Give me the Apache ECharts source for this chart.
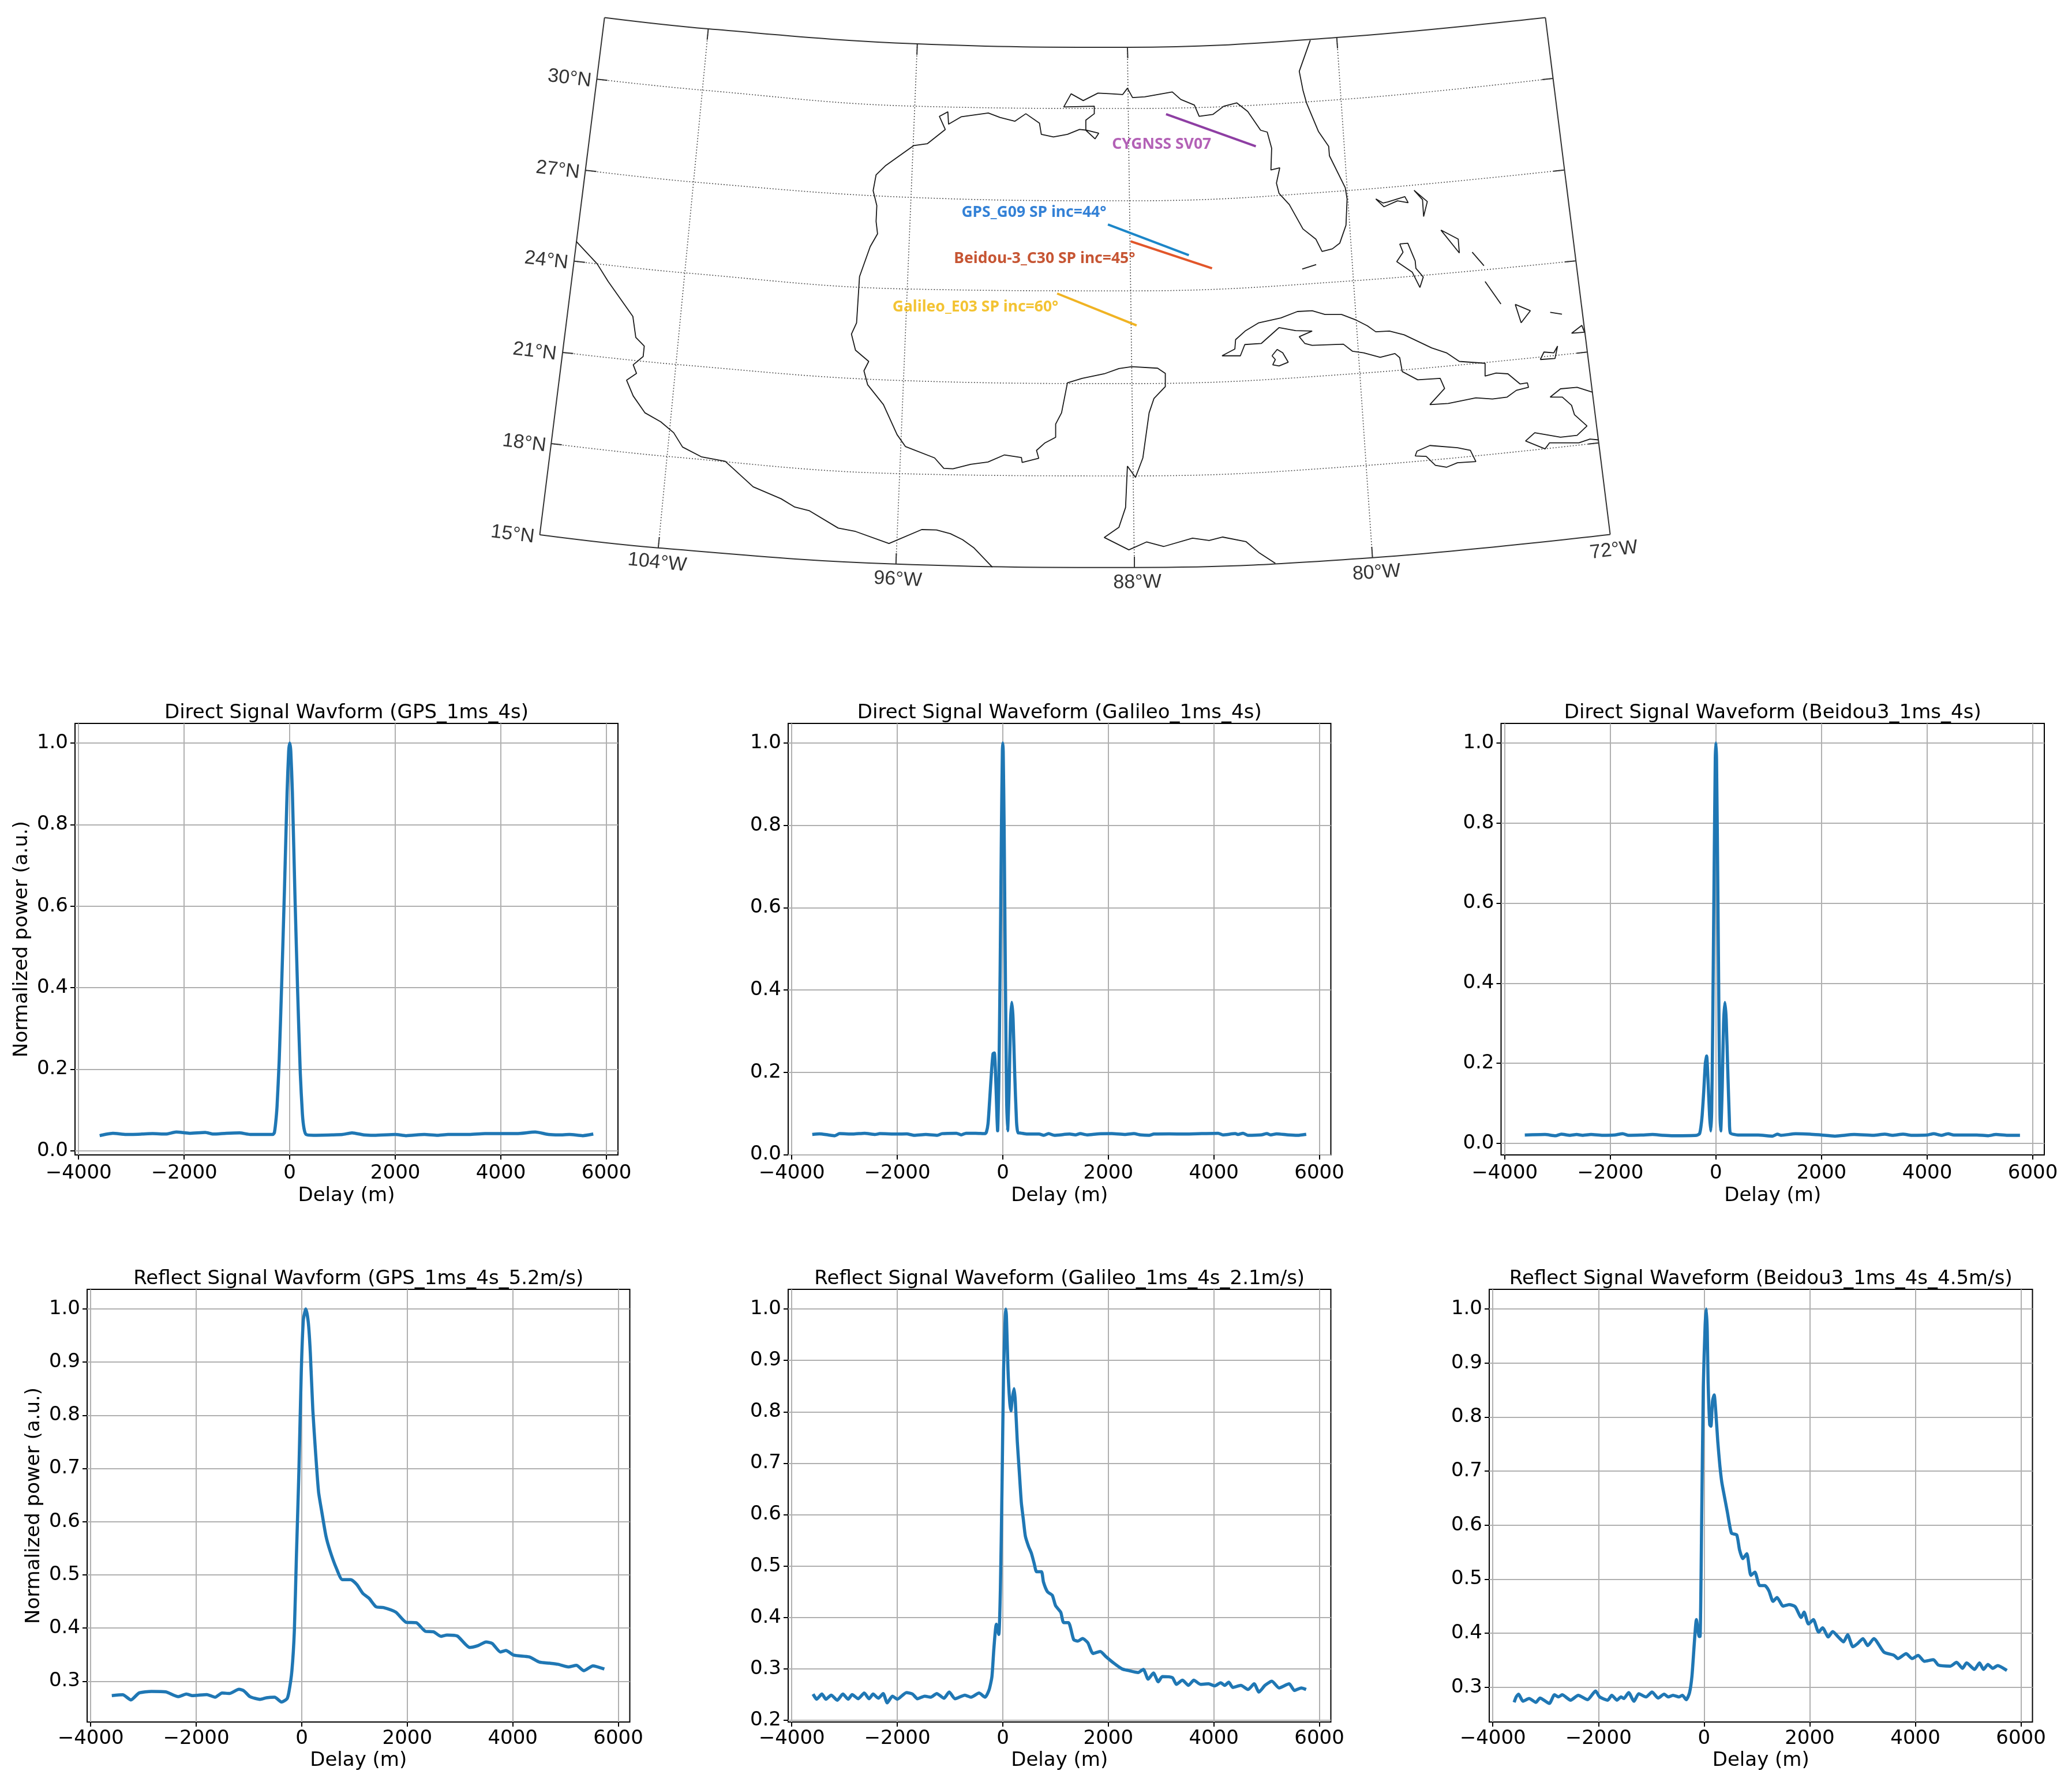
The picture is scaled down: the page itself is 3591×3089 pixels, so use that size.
<!DOCTYPE html>
<html><head><meta charset="utf-8">
<style>html,body{margin:0;padding:0;background:#fff}#c{width:3591px;height:3089px}</style>
<script src="https://cdn.jsdelivr.net/npm/echarts@6/dist/echarts.min.js"></script>
</head><body><div id="c"></div>
<script>
// ---------- waveforms: [delay (m), normalized power] ----------
const gpsDirect = [[-3600,.037],[-3500,.04],[-3350,.043],[-3100,.04],[-2800,.041],[-2600,.042],[-2350,.041],[-2150,.046],[-1900,.043],[-1600,.045],[-1450,.041],[-1200,.043],[-950,.044],[-750,.04],[-500,.04],[-320,.04],[-290,.045],[-265,.07],[-240,.11],[-200,.22],[-150,.42],[-100,.64],[-50,.88],[-20,.98],[0,1],[20,.98],[50,.88],[100,.62],[150,.39],[200,.19],[240,.09],[270,.055],[310,.04],[450,.038],[800,.039],[1000,.04],[1180,.044],[1400,.039],[1600,.038],[2000,.04],[2200,.037],[2550,.04],[2800,.038],[3000,.04],[3400,.04],[3700,.042],[4000,.042],[4300,.042],[4650,.046],[4900,.04],[5100,.039],[5300,.04],[5550,.037],[5750,.041]];
const galileoDirect = [[-3611,.049],[-3474,.0505],[-3310,.048],[-3183,.046],[-3093,.051],[-2838,.05],[-2620,.052],[-2421,.049],[-2330,.051],[-2004,.05],[-1822,.0505],[-1677,.047],[-1459,.049],[-1241,.047],[-1151,.051],[-878,.052],[-788,.048],[-697,.052],[-515,.052],[-334,.051],[-310,.055],[-280,.075],[-250,.13],[-215,.2],[-185,.245],[-160,.247],[-130,.17],[-110,.09],[-98,.058],[-75,.18],[-50,.45],[-25,.8],[-8,.98],[0,1],[8,.98],[25,.8],[50,.42],[72,.14],[91,.058],[120,.16],[145,.32],[170,.37],[195,.33],[225,.2],[260,.08],[285,.053],[301,.053],[464,.05],[686,.05],[777,.047],[868,.051],[977,.047],[1267,.05],[1377,.048],[1468,.051],[1594,.048],[1811,.0505],[2065,.051],[2319,.049],[2483,.051],[2610,.048],[2773,.047],[2864,.05],[3155,.0505],[3445,.05],[3772,.051],[4080,.052],[4171,.048],[4407,.051],[4461,.049],[4552,.052],[4643,.047],[4897,.048],[5006,.051],[5079,.048],[5188,.0505],[5406,.048],[5588,.047],[5751,.0495]];
const beidouDirect = [[-3618,.0207],[-3236,.022],[-3036,.019],[-2927,.023],[-2764,.02],[-2636,.022],[-2527,.02],[-2364,.022],[-2145,.02],[-1927,.0207],[-1764,.024],[-1655,.02],[-1418,.0207],[-1200,.022],[-1000,.02],[-800,.019],[-364,.02],[-310,.024],[-285,.04],[-260,.07],[-230,.13],[-200,.2],[-175,.218],[-150,.16],[-120,.07],[-98,.031],[-80,.08],[-60,.3],[-35,.66],[-12,.96],[0,1],[12,.96],[35,.66],[60,.28],[78,.07],[91,.031],[120,.14],[145,.3],[170,.352],[195,.31],[225,.18],[255,.06],[273,.026],[418,.0207],[800,.0207],[1074,.018],[1164,.023],[1236,.02],[1511,.024],[1783,.023],[2000,.0207],[2254,.018],[2617,.022],[2980,.02],[3198,.023],[3343,.02],[3543,.023],[3707,.02],[4000,.0207],[4123,.024],[4269,.02],[4396,.024],[4505,.0207],[4940,.0207],[5157,.019],[5303,.022],[5521,.02],[5757,.02]];
const gpsReflect = [[-3600,.273],[-3393,.2746],[-3237,.265],[-3082,.278],[-2848,.281],[-2576,.28],[-2342,.271],[-2187,.276],[-2070,.273],[-1798,.275],[-1642,.27],[-1510,.278],[-1370,.277],[-1190,.285],[-1097,.282],[-980,.271],[-786,.266],[-669,.269],[-514,.27],[-381,.261],[-280,.267],[-241,.281],[-187,.319],[-140,.395],[-101,.535],[-54,.694],[-8,.885],[31,.98],[78,1],[125,.974],[163,.917],[210,.81],[265,.726],[319,.656],[381,.618],[459,.573],[537,.545],[654,.513],[770,.491],[926,.491],[1043,.482],[1160,.465],[1276,.456],[1409,.44],[1549,.4386],[1782,.43],[1977,.411],[2171,.41],[2342,.394],[2498,.393],[2638,.3845],[2755,.387],[2949,.385],[3183,.3636],[3339,.367],[3494,.374],[3611,.371],[3767,.355],[3868,.358],[4023,.349],[4311,.3458],[4506,.336],[4700,.334],[4856,.332],[5051,.327],[5206,.33],[5346,.32],[5518,.329],[5735,.323]];
const galileoReflect = [[-3596,.251],[-3527,.241],[-3428,.251],[-3351,.241],[-3252,.249],[-3138,.239],[-3031,.251],[-2931,.241],[-2855,.25],[-2741,.242],[-2626,.253],[-2534,.242],[-2458,.251],[-2359,.243],[-2267,.252],[-2191,.234],[-2092,.247],[-2000,.241],[-1825,.254],[-1710,.251],[-1618,.242],[-1481,.247],[-1366,.245],[-1252,.252],[-1115,.243],[-1015,.255],[-908,.242],[-718,.249],[-603,.245],[-450,.253],[-336,.245],[-260,.259],[-206,.285],[-168,.341],[-122,.387],[-76,.367],[-46,.453],[-15,.65],[15,.881],[46,.985],[57,1],[69,.985],[99,.881],[130,.821],[153,.802],[183,.828],[214,.845],[237,.821],[275,.742],[313,.683],[351,.624],[389,.591],[428,.558],[489,.538],[542,.525],[595,.505],[641,.489],[733,.489],[771,.469],[847,.45],[939,.443],[1000,.423],[1099,.41],[1153,.39],[1244,.39],[1344,.357],[1420,.354],[1512,.359],[1611,.351],[1710,.33],[1847,.334],[1954,.324],[2107,.311],[2260,.3],[2374,.297],[2565,.293],[2664,.299],[2756,.28],[2855,.292],[2947,.275],[3023,.285],[3214,.283],[3290,.27],[3405,.278],[3519,.268],[3619,.278],[3748,.27],[3901,.271],[4015,.267],[4130,.273],[4206,.268],[4283,.274],[4359,.264],[4512,.268],[4649,.26],[4764,.271],[4855,.255],[4970,.268],[5099,.276],[5237,.263],[5428,.271],[5527,.258],[5657,.263],[5749,.26]];
const beidouReflect = [[-3596,.272],[-3557,.282],[-3512,.287],[-3428,.274],[-3313,.279],[-3183,.272],[-3107,.28],[-2931,.27],[-2832,.286],[-2756,.282],[-2687,.286],[-2527,.276],[-2382,.285],[-2206,.277],[-2054,.293],[-1977,.282],[-1825,.276],[-1748,.285],[-1649,.276],[-1573,.282],[-1519,.279],[-1428,.29],[-1328,.274],[-1237,.288],[-1099,.282],[-985,.291],[-870,.28],[-756,.287],[-679,.282],[-588,.285],[-473,.282],[-412,.285],[-336,.277],[-275,.29],[-229,.321],[-183,.384],[-145,.425],[-92,.394],[-76,.394],[-46,.604],[-15,.855],[20,.97],[42,1],[60,.96],[76,.867],[107,.786],[130,.783],[160,.83],[191,.841],[221,.811],[260,.754],[298,.711],[336,.679],[389,.651],[443,.623],[519,.585],[618,.582],[672,.554],[733,.538],[809,.547],[886,.507],[962,.513],[1053,.488],[1153,.488],[1229,.478],[1305,.459],[1382,.466],[1496,.45],[1611,.453],[1725,.449],[1840,.429],[1893,.439],[1977,.417],[2069,.425],[2168,.402],[2244,.41],[2351,.393],[2435,.403],[2550,.392],[2641,.384],[2718,.397],[2817,.375],[2909,.381],[3008,.39],[3099,.377],[3214,.39],[3405,.365],[3596,.359],[3672,.353],[3825,.362],[3939,.353],[4054,.359],[4168,.348],[4344,.351],[4435,.341],[4664,.339],[4779,.346],[4893,.335],[4970,.345],[5122,.333],[5214,.345],[5290,.333],[5374,.342],[5466,.335],[5558,.34],[5733,.331]];

const delayTicks = [-4000,-2000,0,2000,4000,6000];
const directTicks = [0,.2,.4,.6,.8,1];
const reflectTicks = [.3,.4,.5,.6,.7,.8,.9,1];
const reflectTicksGalileo = [.2,.3,.4,.5,.6,.7,.8,.9,1];

const panelTitles = ['Direct Signal Wavform (GPS_1ms_4s)','Direct Signal Waveform (Galileo_1ms_4s)','Direct Signal Waveform (Beidou3_1ms_4s)','Reflect Signal Wavform (GPS_1ms_4s_5.2m/s)','Reflect Signal Waveform (Galileo_1ms_4s_2.1m/s)','Reflect Signal Waveform (Beidou3_1ms_4s_4.5m/s)'];

// ---------- map, in map-plane units ----------
const frameTop = [[310,47],[592,77],[1160,117],[1731,126],[2300,100],[2867,47]];
const frameBottom = [[134,1425],[456,1460],[1102,1503],[1750,1512],[2397,1486],[3043,1424]];
const frameLeft = [[310,47],[134,1425]];
const frameRight = [[2867,47],[3043,1424]];
const meridians = [[[592,77],[456,1460]],[[1160,117],[1102,1503]],[[1731,126],[1750,1512]],[[2300,100],[2397,1486]]];
const parallels = [
 [[289,211],[575,240],[1155,283],[1731,289],[2313,265],[2887,209]],
 [[259,454],[552,485],[1143,526],[1740,535],[2325,508],[2918,453]],
 [[228,696],[528,727],[1133,770],[1740,775],[2346,748],[2949,695]],
 [[196,939],[505,971],[1120,1014],[1743,1022],[2358,995],[2981,938]],
 [[165,1182],[480,1216],[1112,1262],[1746,1268],[2381,1240],[3012,1180]]];
const gridTicks = [
 [[289,211],[318,214]],[[259,454],[288,457]],[[228,696],[257,699]],[[196,939],[225,942]],[[165,1182],[194,1185]],
 [[2887,209],[2858,212]],[[2918,453],[2889,456]],[[2949,695],[2920,698]],[[2981,938],[2952,941]],[[3012,1180],[2983,1183]],
 [[592,77],[589,106]],[[1160,117],[1159,146]],[[1731,126],[1732,155]],[[2300,100],[2302,129]],
 [[456,1460],[459,1431]],[[1102,1503],[1103,1474]],[[1750,1512],[1750,1483]],[[2397,1486],[2395,1457]]];
const coastWest = [[233,643],[290,703],[320,750],[387,843],[395,899],[418,922],[415,950],[388,972],[397,995],[370,1013],[388,1055],[420,1100],[463,1124],[498,1153],[522,1191],[573,1217],[638,1229],[714,1297],[790,1329],[827,1351],[867,1361],[945,1407],[992,1416],[1083,1448],[1172,1411],[1212,1412],[1250,1422],[1283,1438],[1313,1459],[1364,1511]];
const coastGulf = [[2228,107],[2198,190],[2208,240],[2218,275],[2250,350],[2278,390],[2280,415],[2323,500],[2328,530],[2325,600],[2308,648],[2288,663],[2260,670],[2243,637],[2208,610],[2171,545],[2143,515],[2136,488],[2145,447],[2121,453],[2123,395],[2111,352],[2093,347],[2058,297],[2028,274],[1993,283],[1963,305],[1926,310],[1913,280],[1876,265],[1853,245],[1778,258],[1745,260],[1731,235],[1718,252],[1688,250],[1651,248],[1611,268],[1578,250],[1558,285],[1641,283],[1641,303],[1618,320],[1618,347],[1643,370],[1653,355],[1621,347],[1601,345],[1568,358],[1530,365],[1497,358],[1492,328],[1455,303],[1425,323],[1385,313],[1353,301],[1280,311],[1245,331],[1243,298],[1220,310],[1236,345],[1187,383],[1150,388],[1073,442],[1048,466],[1040,508],[1050,548],[1048,590],[1052,623],[1032,657],[1003,737],[995,860],[981,890],[992,933],[1028,963],[1015,988],[1025,1025],[1068,1078],[1105,1158],[1128,1190],[1207,1220],[1232,1248],[1257,1249],[1305,1237],[1352,1231],[1397,1212],[1443,1219],[1445,1232],[1490,1221],[1484,1200],[1507,1180],[1536,1165],[1536,1130],[1552,1100],[1568,1020],[1608,1008],[1668,996],[1708,982],[1743,977],[1813,981],[1834,995],[1834,1030],[1803,1062],[1790,1100],[1773,1220],[1753,1272],[1731,1242],[1726,1352],[1708,1405],[1668,1432],[1735,1465],[1783,1444],[1830,1456],[1908,1434],[1953,1440],[1990,1431],[2053,1443],[2088,1472],[2133,1501]];
const islands = [
 [[1988,948],[2023,930],[2025,905],[2051,882],[2088,860],[2148,847],[2193,830],[2233,828],[2268,838],[2313,838],[2353,853],[2383,868],[2406,884],[2443,882],[2483,892],[2558,927],[2598,940],[2633,963],[2703,968],[2703,1002],[2733,994],[2765,996],[2798,1023],[2818,1020],[2821,1032],[2788,1040],[2763,1058],[2723,1063],[2678,1060],[2603,1075],[2553,1078],[2593,1035],[2581,1008],[2520,1012],[2478,990],[2471,953],[2458,942],[2418,952],[2373,940],[2343,936],[2318,917],[2233,920],[2213,915],[2198,897],[2233,882],[2188,881],[2143,873],[2095,915],[2050,918],[2038,948],[1988,948]],
 [[2124,948],[2138,931],[2153,940],[2168,965],[2143,975],[2126,972],[2133,958],[2124,948]],
 [[2513,1215],[2518,1202],[2553,1187],[2628,1193],[2663,1200],[2678,1230],[2628,1233],[2598,1245],[2568,1240],[2543,1216],[2513,1215]],
 [[2995,1045],[2953,1032],[2908,1036],[2880,1058],[2913,1058],[2938,1080],[2946,1105],[2980,1135],[2953,1160],[2908,1165],[2838,1153],[2813,1175],[2866,1196],[2878,1180],[2958,1180],[2988,1170],[3011,1172]],
 [[2406,530],[2428,551],[2465,535],[2494,540],[2485,524],[2438,538],[2426,541],[2406,530]],
 [[2510,507],[2546,537],[2536,577],[2533,532],[2510,507]],
 [[2583,613],[2630,637],[2633,674],[2583,613]],
 [[2471,650],[2493,648],[2513,695],[2515,715],[2535,738],[2526,766],[2505,725],[2463,697],[2480,672],[2471,650]],
 [[2668,672],[2700,708]],
 [[2703,750],[2746,810]],
 [[2785,811],[2826,828],[2801,860],[2785,811]],
 [[2880,832],[2912,837]],
 [[2938,888],[2966,867],[2973,885],[2938,888]],
 [[2853,958],[2863,938],[2890,940],[2900,922],[2893,955],[2853,958]],
 [[2206,717],[2244,705]]];
const tracks = [
 {name:'CYGNSS SV07', line:[[1836,304],[2080,390]], at:[1824,385], line_c:'#8e3ea3', text_c:'#a03aa4'},
 {name:'GPS_G09 SP inc=44°', line:[[1678,598],[1898,680]], at:[1477,567], line_c:'#1c86c8', text_c:'#0062cc'},
 {name:'Beidou-3_C30 SP inc=45°', line:[[1740,643],[1961,715]], at:[1506,689], line_c:'#e2562a', text_c:'#b82a00'},
 {name:'Galileo_E03 SP inc=60°', line:[[1540,782],[1756,867]], at:[1318,818], line_c:'#f0b323', text_c:'#f0b400'}];
const latLabels = ['30°N','27°N','24°N','21°N','18°N','15°N'];
const latLabelAt = [[215,209],[183,453],[152,694],[120,937],[92,1181],[60,1424]];
const lonLabels = ['104°W','96°W','88°W','80°W','72°W'];
const lonLabelAt = [[453,1499],[1107,1544],[1758,1552],[2408,1526],[3053,1466]];
const lonLabelTurn = [-6,-3,1,4,7];

// ---------- layout ----------
const FONT='DejaVu Sans';
const boxes=[[130,1071,1254,2002],[1366,2306.5,1254,2002],[2601.5,3543,1254,2002],[151,1091.5,2235,2985],[1366,2306.5,2235,2985],[2581,3522.5,2235,2985]];
const yRanges=[[-.0102,1.0484],[-.0007,1.0477],[-.029,1.049],[.2234,1.0369],[.1967,1.0383],[.2356,1.0364]];
const yTicks=[directTicks,directTicks,directTicks,reflectTicks,reflectTicksGalileo,reflectTicks];
const waves=[gpsDirect,galileoDirect,beidouDirect,gpsReflect,galileoReflect,beidouReflect];
const W=3591,H=3089;
const grid=[],xAxis=[],yAxis=[],series=[],title=[];
boxes.forEach((b,i)=>{
  const row1=i<3;
  grid.push({left:b[0],top:b[2],width:b[1]-b[0],height:b[3]-b[2],show:true,borderColor:'#000',borderWidth:2,backgroundColor:'#fff'});
  xAxis.push({type:'value',gridIndex:i,min:-4067.5,max:6217.5,name:'Delay (m)',nameLocation:'middle',nameGap:row1?54:50,
    nameTextStyle:{fontFamily:FONT,fontSize:34,color:'#000'},
    axisLine:{show:false,onZero:false},axisTick:{show:true,length:8,inside:false,lineStyle:{color:'#000',width:2},customValues:delayTicks},
    axisLabel:{fontFamily:FONT,fontSize:34,color:'#000',margin:row1?15:12,customValues:delayTicks,hideOverlap:false,formatter:v=>String(v).replace('-','\u2212')},
    splitLine:{show:true,lineStyle:{color:'#b0b0b0',width:2}}});
  yAxis.push({type:'value',gridIndex:i,min:yRanges[i][0],max:yRanges[i][1],
    name:(i===0||i===3)?'Normalized power (a.u.)':'',nameLocation:'middle',nameGap:75,nameRotate:90,
    nameTextStyle:{fontFamily:FONT,fontSize:34,color:'#000'},
    axisLine:{show:false,onZero:false},axisTick:{show:true,length:8,lineStyle:{color:'#000',width:2},customValues:yTicks[i]},
    axisLabel:{fontFamily:FONT,fontSize:34,color:'#000',margin:12,customValues:yTicks[i],formatter:v=>v.toFixed(1)},
    splitLine:{show:true,lineStyle:{color:'#b0b0b0',width:2}}});
  series.push({type:'line',xAxisIndex:i,yAxisIndex:i,data:waves[i],symbol:'none',silent:true,animation:false,smooth:.2,
    lineStyle:{color:'#1f77b4',width:5.5,join:'round'},z:5});
  title.push({text:panelTitles[i],left:(b[0]+b[1])/2-5,top:b[2]-40,textAlign:'center',
    textStyle:{fontFamily:FONT,fontSize:34,fontWeight:'normal',color:'#000'}});
});
// map plane grid: the zoomed-reference plane, mapped through hidden value axes
const mi=boxes.length;
grid.push({left:850,top:0,width:W-850,height:H,show:false});
xAxis.push({type:'value',gridIndex:mi,min:0,max:4298,show:false});
yAxis.push({type:'value',gridIndex:mi,min:0,max:4748,inverse:true,show:false});
const mapLine=(data,style,extra)=>series.push(Object.assign({type:'line',xAxisIndex:mi,yAxisIndex:mi,data,symbol:'none',silent:true,animation:false,lineStyle:style,z:3},extra||{}));
const dotted={color:'#555',width:1.6,type:[2,3]};
meridians.forEach(m=>mapLine(m,dotted));
parallels.forEach(p=>mapLine(p,dotted,{smooth:.4}));
const solid={color:'#333',width:2};
gridTicks.forEach(t=>mapLine(t,solid));
mapLine(frameTop,solid,{smooth:.4});mapLine(frameBottom,solid,{smooth:.4});mapLine(frameLeft,solid);mapLine(frameRight,solid);
const coast={color:'#1a1a1a',width:1.8};
mapLine(coastWest,coast);mapLine(coastGulf,coast);islands.forEach(s=>mapLine(s,coast));
tracks.forEach(t=>mapLine(t.line,{color:t.line_c,width:4},{z:4}));
const labelData=[];
latLabels.forEach((n,i)=>labelData.push({name:n,value:latLabelAt[i],label:{rotate:-7}}));
lonLabels.forEach((n,i)=>labelData.push({name:n,value:lonLabelAt[i],label:{rotate:lonLabelTurn[i]}}));
series.push({type:'scatter',xAxisIndex:mi,yAxisIndex:mi,symbolSize:1,silent:true,animation:false,itemStyle:{color:'transparent'},z:6,
  label:{show:true,position:'inside',formatter:'{b}',fontFamily:'Liberation Sans',fontSize:34,color:'#000'},data:labelData});
series.push({type:'scatter',xAxisIndex:mi,yAxisIndex:mi,symbolSize:1,silent:true,animation:false,itemStyle:{color:'transparent'},z:6,
  label:{show:true,position:'inside',formatter:'{b}',fontFamily:'Noto Sans',fontWeight:'bold',fontSize:26.5},
  data:tracks.map(t=>({name:t.name,value:t.at,label:{color:t.text_c}}))});

const chart=echarts.init(document.getElementById('c'),null,{renderer:'canvas',width:W,height:H});
chart.setOption({animation:false,backgroundColor:'#fff',title,grid,xAxis,yAxis,series});
</script></body></html>
